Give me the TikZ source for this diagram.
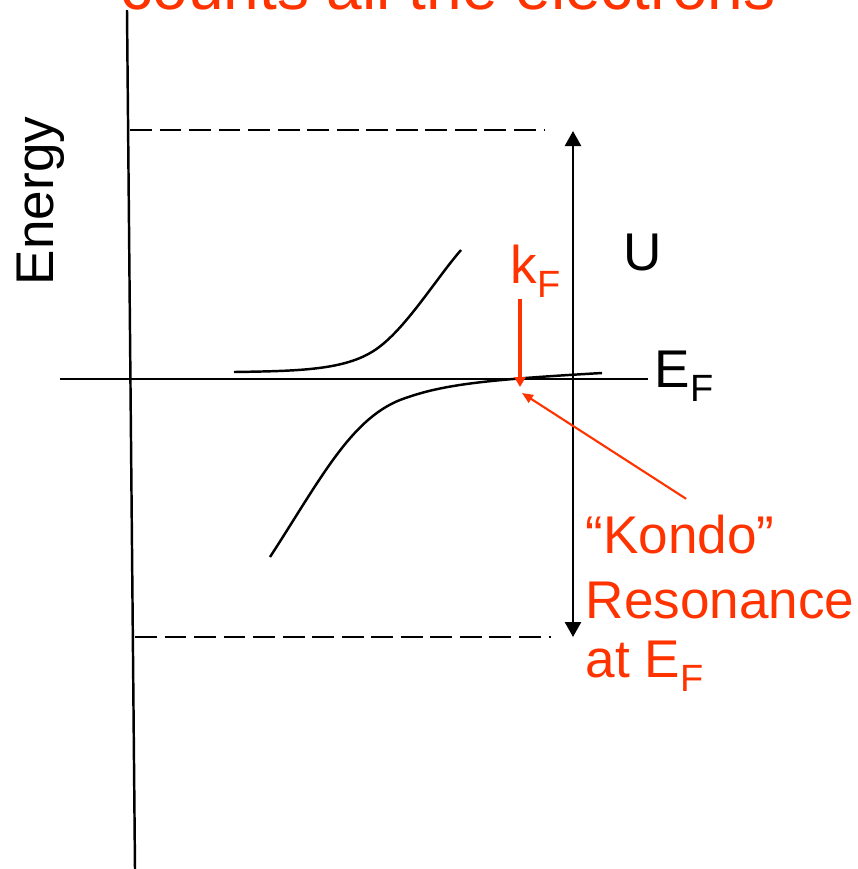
\documentclass[tikz,border=0pt]{standalone}
\usepackage{fontspec}
\setmainfont{Liberation Sans}
\usepackage{xcolor}
\usepackage{tikz}
\usetikzlibrary{arrows.meta}
\definecolor{kondored}{HTML}{FF3300}
\newcommand{\lowsub}[1]{\raisebox{-0.28em}{\fontsize{10.8}{12}\selectfont #1}}

\begin{document}
\begin{tikzpicture}[
        x=0.01cm, y=-0.01cm,
        every node/.style={inner sep=0pt, font=\fontsize{15.1}{18}\selectfont},
        lbl/.style={anchor=base west},
        hot/.style={text=kondored},
        bigtitle/.style={font=\fontsize{18.2}{22}\selectfont},
        thinline/.style={line width=0.7pt},
        dashline/.style={line width=0.7pt, dash pattern=on 6.2pt off 2.2pt}
    ]
    \useasboundingbox (0,0) rectangle (858,869);
    \clip (0,0) rectangle (858,869);

    % ============ title (cut at the top) ============
    \node[lbl, hot, bigtitle] (title) at (120,9) {counts all the electrons};

    % ============ axes ============
    \coordinate (axtop) at (127,10);
    \coordinate (axbot) at (135,869);
    \coordinate (efleft) at (60,379);
    \coordinate (efright) at (648,379);
    \draw[thinline] (axtop) -- (axbot);
    \draw[thinline] (efleft) -- (efright);
    \node[rotate=90, anchor=base] (energy) at (54,201) {Energy};
    \node[lbl] (eflbl) at (654,387) {E\lowsub{F}};

    % ============ U window ============
    \draw[dashline] (130,130) -- (544,130);
    \draw[dashline] (135,637) -- (551,637);
    \coordinate (utop) at (573,131);
    \coordinate (ubot) at (573,637);
    \draw[thinline, {Triangle[width=0.16cm,length=0.15cm]}-{Triangle[width=0.16cm,length=0.15cm]}]
    (utop) -- (ubot);
    \node[lbl] (ulbl) at (623,270) {U};

    % ============ bands ============
    \draw[thinline] (234,372) .. controls (300,371) and (345,370) .. (375,350)
    .. controls (405,330) and (435,280) .. (461,250);
    \draw[thinline] (270,557) .. controls (320,480) and (350,420) .. (400,400)
    .. controls (440,385) and (480,380) .. (602,373);

    % ============ k_F and Kondo resonance ============
    \node[lbl, hot] (kflbl) at (510,283) {k\lowsub{F}};
    \coordinate (kftip) at (520,387);
    \draw[kondored, line width=1.4pt, -{Triangle[width=0.11cm,length=0.1cm]}]
    (kflbl.south -| kftip) -- (kftip);

    \node[lbl, hot] (kondo) at (585,553) {“Kondo”};
    \node[lbl, hot] (reson) at (585,618) {Resonance};
    \node[lbl, hot] (atef) at (585,677) {at E\lowsub{F}};
    \coordinate (kres) at (522,393);
    \draw[kondored, line width=0.6pt, -{Triangle[width=0.09cm,length=0.11cm]}]
    ([shift={(6,-15)}]kondo.north) -- (kres);
\end{tikzpicture}
\end{document}
